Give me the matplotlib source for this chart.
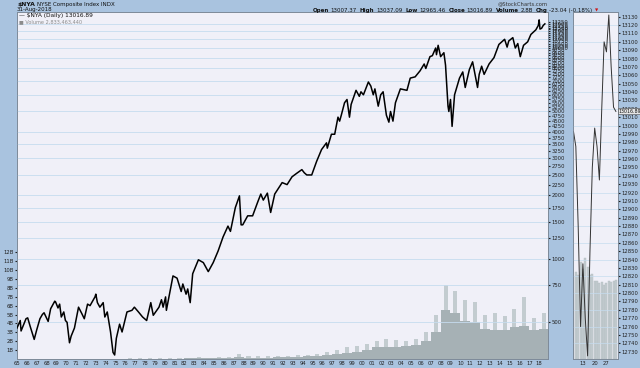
# NYSE Composite ($NYA) long-term daily chart, StockCharts style

import numpy as np
import pandas as pd
import matplotlib
matplotlib.use("Agg")
import matplotlib.pyplot as plt
import matplotlib.dates as mdates

# price closes (month, index value)
price_dates = [
    '1965-01', '1965-05', '1965-06', '1965-12', '1966-02', '1966-05', '1966-08', '1966-10',
    '1967-01', '1967-05', '1967-08', '1967-10', '1968-03', '1968-06', '1968-11', '1968-12',
    '1969-03', '1969-05', '1969-07', '1969-10', '1969-12', '1970-02', '1970-05', '1970-07',
    '1970-11', '1971-04', '1971-08', '1971-11', '1972-03', '1972-06', '1972-12', '1973-01',
    '1973-03', '1973-06', '1973-10', '1973-12', '1974-03', '1974-07', '1974-10', '1974-12',
    '1975-02', '1975-06', '1975-09', '1976-03', '1976-09', '1976-12', '1977-05', '1977-10',
    '1978-03', '1978-08', '1978-11', '1979-06', '1979-09', '1979-11', '1980-02', '1980-03',
    '1980-11', '1981-04', '1981-09', '1981-11', '1982-03', '1982-05', '1982-08', '1982-11',
    '1983-06', '1983-12', '1984-06', '1984-12', '1985-06', '1985-12', '1986-06', '1986-09',
    '1987-03', '1987-08', '1987-10', '1987-12', '1988-06', '1988-12', '1989-06', '1989-10',
    '1990-01', '1990-06', '1990-10', '1991-03', '1991-12', '1992-06', '1992-12', '1993-06',
    '1993-12', '1994-03', '1994-06', '1994-12', '1995-06', '1995-12', '1996-06', '1996-07',
    '1996-12', '1997-04', '1997-08', '1997-10', '1997-12', '1998-04', '1998-07', '1998-10',
    '1998-12', '1999-06', '1999-10', '1999-12', '2000-03', '2000-09', '2000-12', '2001-03',
    '2001-05', '2001-09', '2001-12', '2002-03', '2002-07', '2002-10', '2002-12', '2003-03',
    '2003-06', '2003-12', '2004-08', '2004-12', '2005-06', '2005-12', '2006-05', '2006-07',
    '2006-12', '2007-03', '2007-07', '2007-08', '2007-10', '2008-01', '2008-05', '2008-07',
    '2008-10', '2008-11', '2009-01', '2009-03', '2009-06', '2009-12', '2010-04', '2010-07',
    '2010-12', '2011-04', '2011-10', '2011-12', '2012-03', '2012-06', '2012-12', '2013-06',
    '2013-12', '2014-07', '2014-10', '2014-12', '2015-05', '2015-08', '2015-11', '2016-02',
    '2016-06', '2016-11', '2017-03', '2017-09', '2017-12', '2018-01', '2018-02', '2018-04',
    '2018-06', '2018-08',
]
price_close = [
    470, 510, 455, 520, 525, 480, 440, 415,
    460, 520, 545, 555, 505, 580, 630, 625,
    585, 610, 530, 560, 510, 500, 400, 430,
    470, 590, 550, 520, 610, 600, 660, 680,
    620, 590, 620, 530, 560, 450, 360, 350,
    420, 490, 450, 560, 570, 590, 560, 530,
    510, 620, 540, 590, 640, 590, 660, 570,
    830, 810, 700, 760, 680, 720, 620, 850,
    990, 960, 870, 960, 1090, 1270, 1430, 1350,
    1750, 1990, 1450, 1450, 1600, 1600, 1850, 2030,
    1900, 2050, 1660, 2030, 2300, 2250, 2450, 2550,
    2650, 2560, 2500, 2500, 2900, 3300, 3550, 3350,
    3900, 3900, 4700, 4500, 4800, 5500, 5700, 4700,
    5400, 6300, 5900, 6200, 6000, 6900, 6600, 6000,
    6400, 5300, 6000, 6200, 4800, 4450, 5000, 4500,
    5500, 6400, 6300, 7200, 7300, 7800, 8400, 8000,
    9100, 9200, 10000, 9300, 10300, 9100, 9500, 8300,
    5300, 5000, 5700, 4250, 6000, 7200, 7700, 6500,
    7900, 8600, 6500, 7500, 8200, 7500, 8400, 9000,
    10400, 11000, 10100, 10800, 11200, 10000, 10500, 9100,
    10300, 10700, 11600, 12200, 12800, 13600, 12300, 12400,
    12800, 13017,
]

# yearly volume, billions of shares (typical and peak day)
vol_years = list(range(1965, 2019))
vol_avg = [0.01, 0.01, 0.02, 0.02, 0.02, 0.02, 0.02, 0.02, 0.02, 0.02, 0.02, 0.03, 0.03, 0.03, 0.04,
           0.05, 0.05, 0.07, 0.09, 0.09, 0.11, 0.14, 0.19, 0.16, 0.16,
           0.16, 0.18, 0.20, 0.26, 0.29, 0.34, 0.41, 0.53, 0.67, 0.81,
           1.0, 1.3, 1.4, 1.35, 1.45, 1.6, 2.0, 3.0, 5.5, 5.2,
           4.3, 4.2, 3.4, 3.3, 3.3, 3.6, 3.7, 3.3, 3.4]
vol_peak = [0.02, 0.02, 0.03, 0.04, 0.04, 0.04, 0.04, 0.05, 0.05, 0.05, 0.05, 0.06, 0.06, 0.07, 0.08,
            0.1, 0.1, 0.15, 0.17, 0.16, 0.2, 0.26, 0.6, 0.3, 0.3,
            0.3, 0.33, 0.35, 0.45, 0.5, 0.6, 0.75, 1.0, 1.3, 1.5,
            1.7, 2.0, 2.3, 2.1, 2.0, 2.3, 3.0, 5.0, 8.3, 7.6,
            6.6, 6.4, 5.0, 5.2, 4.8, 5.6, 7.0, 4.6, 5.2]

# last month panel (trading days of Aug 2018)
mini_days = [7, 8, 9, 10, 13, 14, 15, 16, 17, 20, 21, 22, 23, 24, 27, 28, 29, 30, 31]
mini_close = [12993, 12975, 12880, 12760, 12835, 12770, 12725, 12850, 12950, 12997,
              12975, 12935, 13020, 13100, 13088, 13132, 13070, 13022, 13016.89]
mini_vol = [2.95, 3.1, 3.0, 3.45, 3.2, 3.6, 3.3, 3.0, 3.05, 2.8,
            2.8, 2.7, 2.75, 2.65, 2.7, 2.8, 2.75, 2.8, 2.83]
mini_ticks = [13, 20, 27]

BG = '#a9c3df'
PANEL = '#f0f0f8'
GRID = '#c6dcef'
VOL_DARK = '#a6b1b5'
VOL_LIGHT = '#c3ccd0'
FS = 3.8

W, H = 640, 368
def box(x0, y0, x1, y1):
    return [x0 / W, 1 - y1 / H, (x1 - x0) / W, (y1 - y0) / H]

fig = plt.figure(figsize=(6.4, 3.68), dpi=100, facecolor=BG)

# ---- main panel: volume underneath, price on top
axv = fig.add_axes(box(17, 12, 548, 359))
axv.set_facecolor(PANEL)
vx = pd.to_datetime([f'{y}-07-01' for y in vol_years])
axv.bar(vx, vol_peak, width=150, color=VOL_LIGHT, linewidth=0, zorder=1)
axv.bar(vx, vol_avg, width=365, color=VOL_DARK, linewidth=0, zorder=2)
axv.set_ylim(0, 39)
axv.set_yticks(range(1, 13))
axv.set_yticklabels([f'{v}B' for v in range(1, 13)])
axv.tick_params(axis='y', labelsize=FS, length=1.5, pad=1, colors='#222')
axv.set_xlim(pd.Timestamp('1965-01-01'), pd.Timestamp('2018-11-25'))
axv.xaxis.set_major_locator(mdates.YearLocator(1))
axv.xaxis.set_major_formatter(mdates.DateFormatter('%y'))
axv.tick_params(axis='x', labelsize=FS, length=0, pad=1.5, colors='#222')

axp = axv.twinx()
axp.set_yscale('log')
axp.set_ylim(335, 14820)
ticks = list(range(500, 13251, 250))
axp.yaxis.set_major_locator(plt.FixedLocator(ticks))
axp.yaxis.set_minor_locator(plt.NullLocator())
axp.set_yticklabels([str(t) for t in ticks])
axp.tick_params(axis='y', labelsize=FS, length=1.5, pad=1, colors='#222')
for g in [500, 750, 1000, 1250, 1500, 1750, 2000, 2500, 3000, 3500, 4000, 5000,
          6000, 7000, 8000, 9000, 10000, 11000, 12000, 13000]:
    axp.axhline(g, color=GRID, lw=0.6, zorder=0)
axp.grid(axis='x', color=GRID, lw=0.6)
axp.plot(pd.to_datetime(price_dates), price_close, color='black', lw=1.1, zorder=3)
for ax in (axv, axp):
    for s in ax.spines.values():
        s.set_color('#7d8a99')
        s.set_linewidth(0.6)

# ---- last month panel
axm = fig.add_axes(box(573, 12, 618, 359))
axm.set_facecolor(PANEL)
mi = np.arange(len(mini_days))
axm.bar(mi, mini_vol, width=0.85, color=VOL_LIGHT, edgecolor='#b3bcc0', linewidth=0.3)
axm.set_ylim(0, 12.4)
axm.set_yticks([])
axm.set_xlim(-0.2, len(mini_days) - 0.1)
axm.set_xticks([mini_days.index(d) for d in mini_ticks])
axm.set_xticklabels([str(d) for d in mini_ticks])
axm.tick_params(axis='x', labelsize=FS, length=0, pad=1.5, colors='#222')

axm2 = axm.twinx()
axm2.set_ylim(12721.3, 13135.6)
mt = list(range(12730, 13131, 10))
axm2.set_yticks(mt)
axm2.set_yticklabels([str(t) for t in mt])
axm2.tick_params(axis='y', labelsize=FS, length=1.5, pad=1, colors='#222')
for g in range(12740, 13131, 20):
    axm2.axhline(g, color=GRID, lw=0.5, zorder=0)
axm2.grid(axis='x', color=GRID, lw=0.5)
axm2.plot(mi, mini_close, color='#333333', lw=0.7)
axm2.text(1.01, mini_close[-1], f'{mini_close[-1]:.2f}', transform=axm2.get_yaxis_transform(),
          fontsize=3.4, va='center', ha='left', color='#111',
          bbox=dict(boxstyle='square,pad=0.12', fc='#e6e6e6', ec='#444', lw=0.4))
for ax in (axm, axm2):
    for s in ax.spines.values():
        s.set_color('#7d8a99')
        s.set_linewidth(0.6)

# ---- header texts
def ftxt(x, y, s, **kw):
    return fig.text(x / W, 1 - y / H, s, va='center', ha='left', **kw)

renderer = fig.canvas.get_renderer()
t = ftxt(17, 4.5, '$NYA', fontsize=4.4, fontweight='bold', color='#111')
ftxt(17 + t.get_window_extent(renderer).width + 2, 4.5, 'NYSE Composite Index INDX',
     fontsize=4.0, color='#111')
ftxt(17, 10, '31-Aug-2018', fontsize=4.0, color='#111')
fig.text(548 / W, 1 - 4.3 / H, '@StockCharts.com', fontsize=3.8, color='#333',
         va='center', ha='right')

# OHLC line, bold labels and plain values in a row
segs = [('Open', 'bold'), ('13007.37', 'normal'), ('High', 'bold'), ('13037.09', 'normal'),
        ('Low', 'bold'), ('12965.46', 'normal'), ('Close', 'bold'), ('13016.89', 'normal'),
        ('Volume', 'bold'), ('2.8B', 'normal'), ('Chg', 'bold'), ('-23.04 (-0.18%)', 'normal')]
x = 313
for s, w in segs:
    t = ftxt(x, 10.5, s, fontsize=4.0, fontweight=w, color='#111')
    x += t.get_window_extent(renderer).width + (1.5 if w == 'bold' else 3)
ftxt(x, 10.5, '\u25bc', fontsize=3.0, color='#d01010')

# legend inside the plot
ftxt(19, 16, '\u2014 $NYA (Daily) 13016.89', fontsize=4.2, color='#111')
ftxt(19, 21.5, '\u25a0 Volume 2,833,463,440', fontsize=3.6, color='#8c8c8c')

fig.savefig('out.png', dpi=100, facecolor=BG)
